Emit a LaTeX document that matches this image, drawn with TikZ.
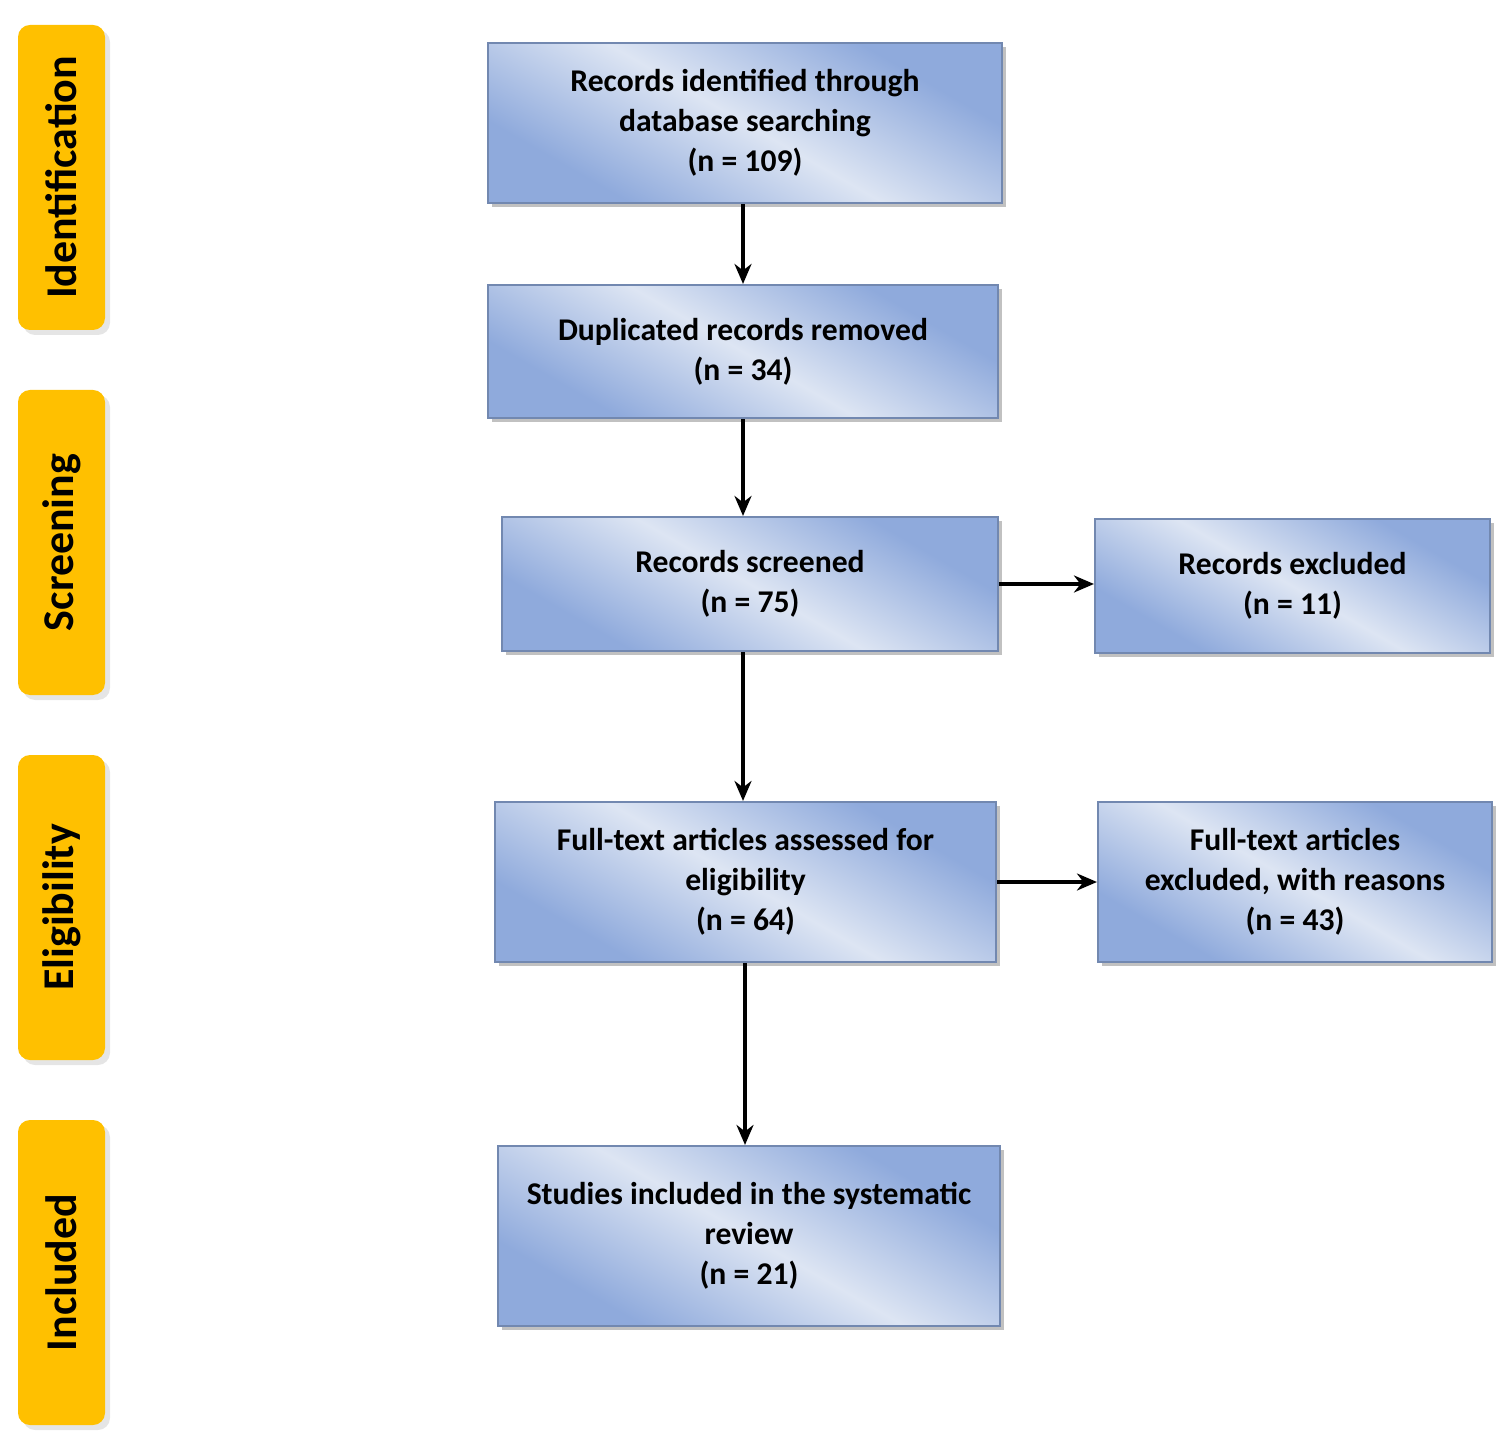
\documentclass[tikz,border=0pt]{standalone}
\usepackage{fontspec}
\setmainfont{Carlito}
\usetikzlibrary{arrows.meta, shadows}

\definecolor{boxdark}{HTML}{8FAADC}
\definecolor{boxlight}{HTML}{DDE5F3}
\definecolor{stagebg}{HTML}{FFC000}
\pgfdeclarehorizontalshading{boxshade}{100bp}{color(0bp)=(boxdark); color(28bp)=(boxdark); color(50bp)=(boxlight); color(72bp)=(boxdark); color(100bp)=(boxdark)}

\tikzset{
  step/.style={draw=boxdark!80!black, line width=0.6pt, shading=boxshade, shading angle=60,
    minimum height=#1, align=center, inner sep=2pt,
    font=\fontsize{9}{11.4}\selectfont\bfseries,
    drop shadow={shadow xshift=0.04cm, shadow yshift=-0.04cm, fill=gray!60, opacity=0.8}},
  stage/.style={fill=stagebg, rounded corners=0.12cm, minimum width=3.05cm, minimum height=0.87cm,
    rotate=90, font=\fontsize{12.5}{14}\selectfont\bfseries,
    drop shadow={shadow xshift=0.05cm, shadow yshift=-0.05cm, fill=gray!40}},
  flow/.style={-{Stealth[length=0.2cm, width=0.17cm]}, line width=1pt}
}

\begin{document}
\begin{tikzpicture}
\useasboundingbox (0,0) rectangle (15.07,-14.47);

% stage labels on the left
\node[stage] (ident) at (0.615,-1.775) {Identification};
\node[stage] (screen) at (0.615,-5.425) {Screening};
\node[stage] (elig) at (0.615,-9.075) {Eligibility};
\node[stage] (incl) at (0.615,-12.725) {Included};

% flow boxes
\node[step=1.6cm, minimum width=5.14cm] (records) at (7.45,-1.23)
  {Records identified through\\database searching\\(n = 109)};
\node[step=1.33cm, minimum width=5.10cm] (dupl) at (7.43,-3.515)
  {Duplicated records removed\\(n = 34)};
\node[step=1.34cm, minimum width=4.96cm] (screened) at (7.50,-5.84)
  {Records screened\\(n = 75)};
\node[step=1.34cm, minimum width=3.95cm] (excl) at (12.925,-5.86)
  {Records excluded\\(n = 11)};
\node[step=1.6cm, minimum width=5.01cm] (fulltext) at (7.455,-8.82)
  {Full-text articles assessed for\\eligibility\\(n = 64)};
\node[step=1.6cm, minimum width=3.94cm] (ftexcl) at (12.95,-8.82)
  {Full-text articles\\excluded, with reasons\\(n = 43)};
\node[step=1.8cm, minimum width=5.02cm] (incstud) at (7.49,-12.36)
  {Studies included in the systematic\\review\\(n = 21)};

% connectors
\draw[flow] (records.south -| dupl.north) -- (dupl.north);
\draw[flow] (dupl.south) -- (dupl.south |- screened.north);
\draw[flow] (screened.south -| 7.43,0) -- (7.43,0 |- fulltext.north);
\draw[flow] (screened.east) -- (screened.east -| excl.west);
\draw[flow] (fulltext.east) -- (fulltext.east -| ftexcl.west);
\draw[flow] (fulltext.south -| 7.45,0) -- (7.45,0 |- incstud.north);
\end{tikzpicture}
\end{document}
